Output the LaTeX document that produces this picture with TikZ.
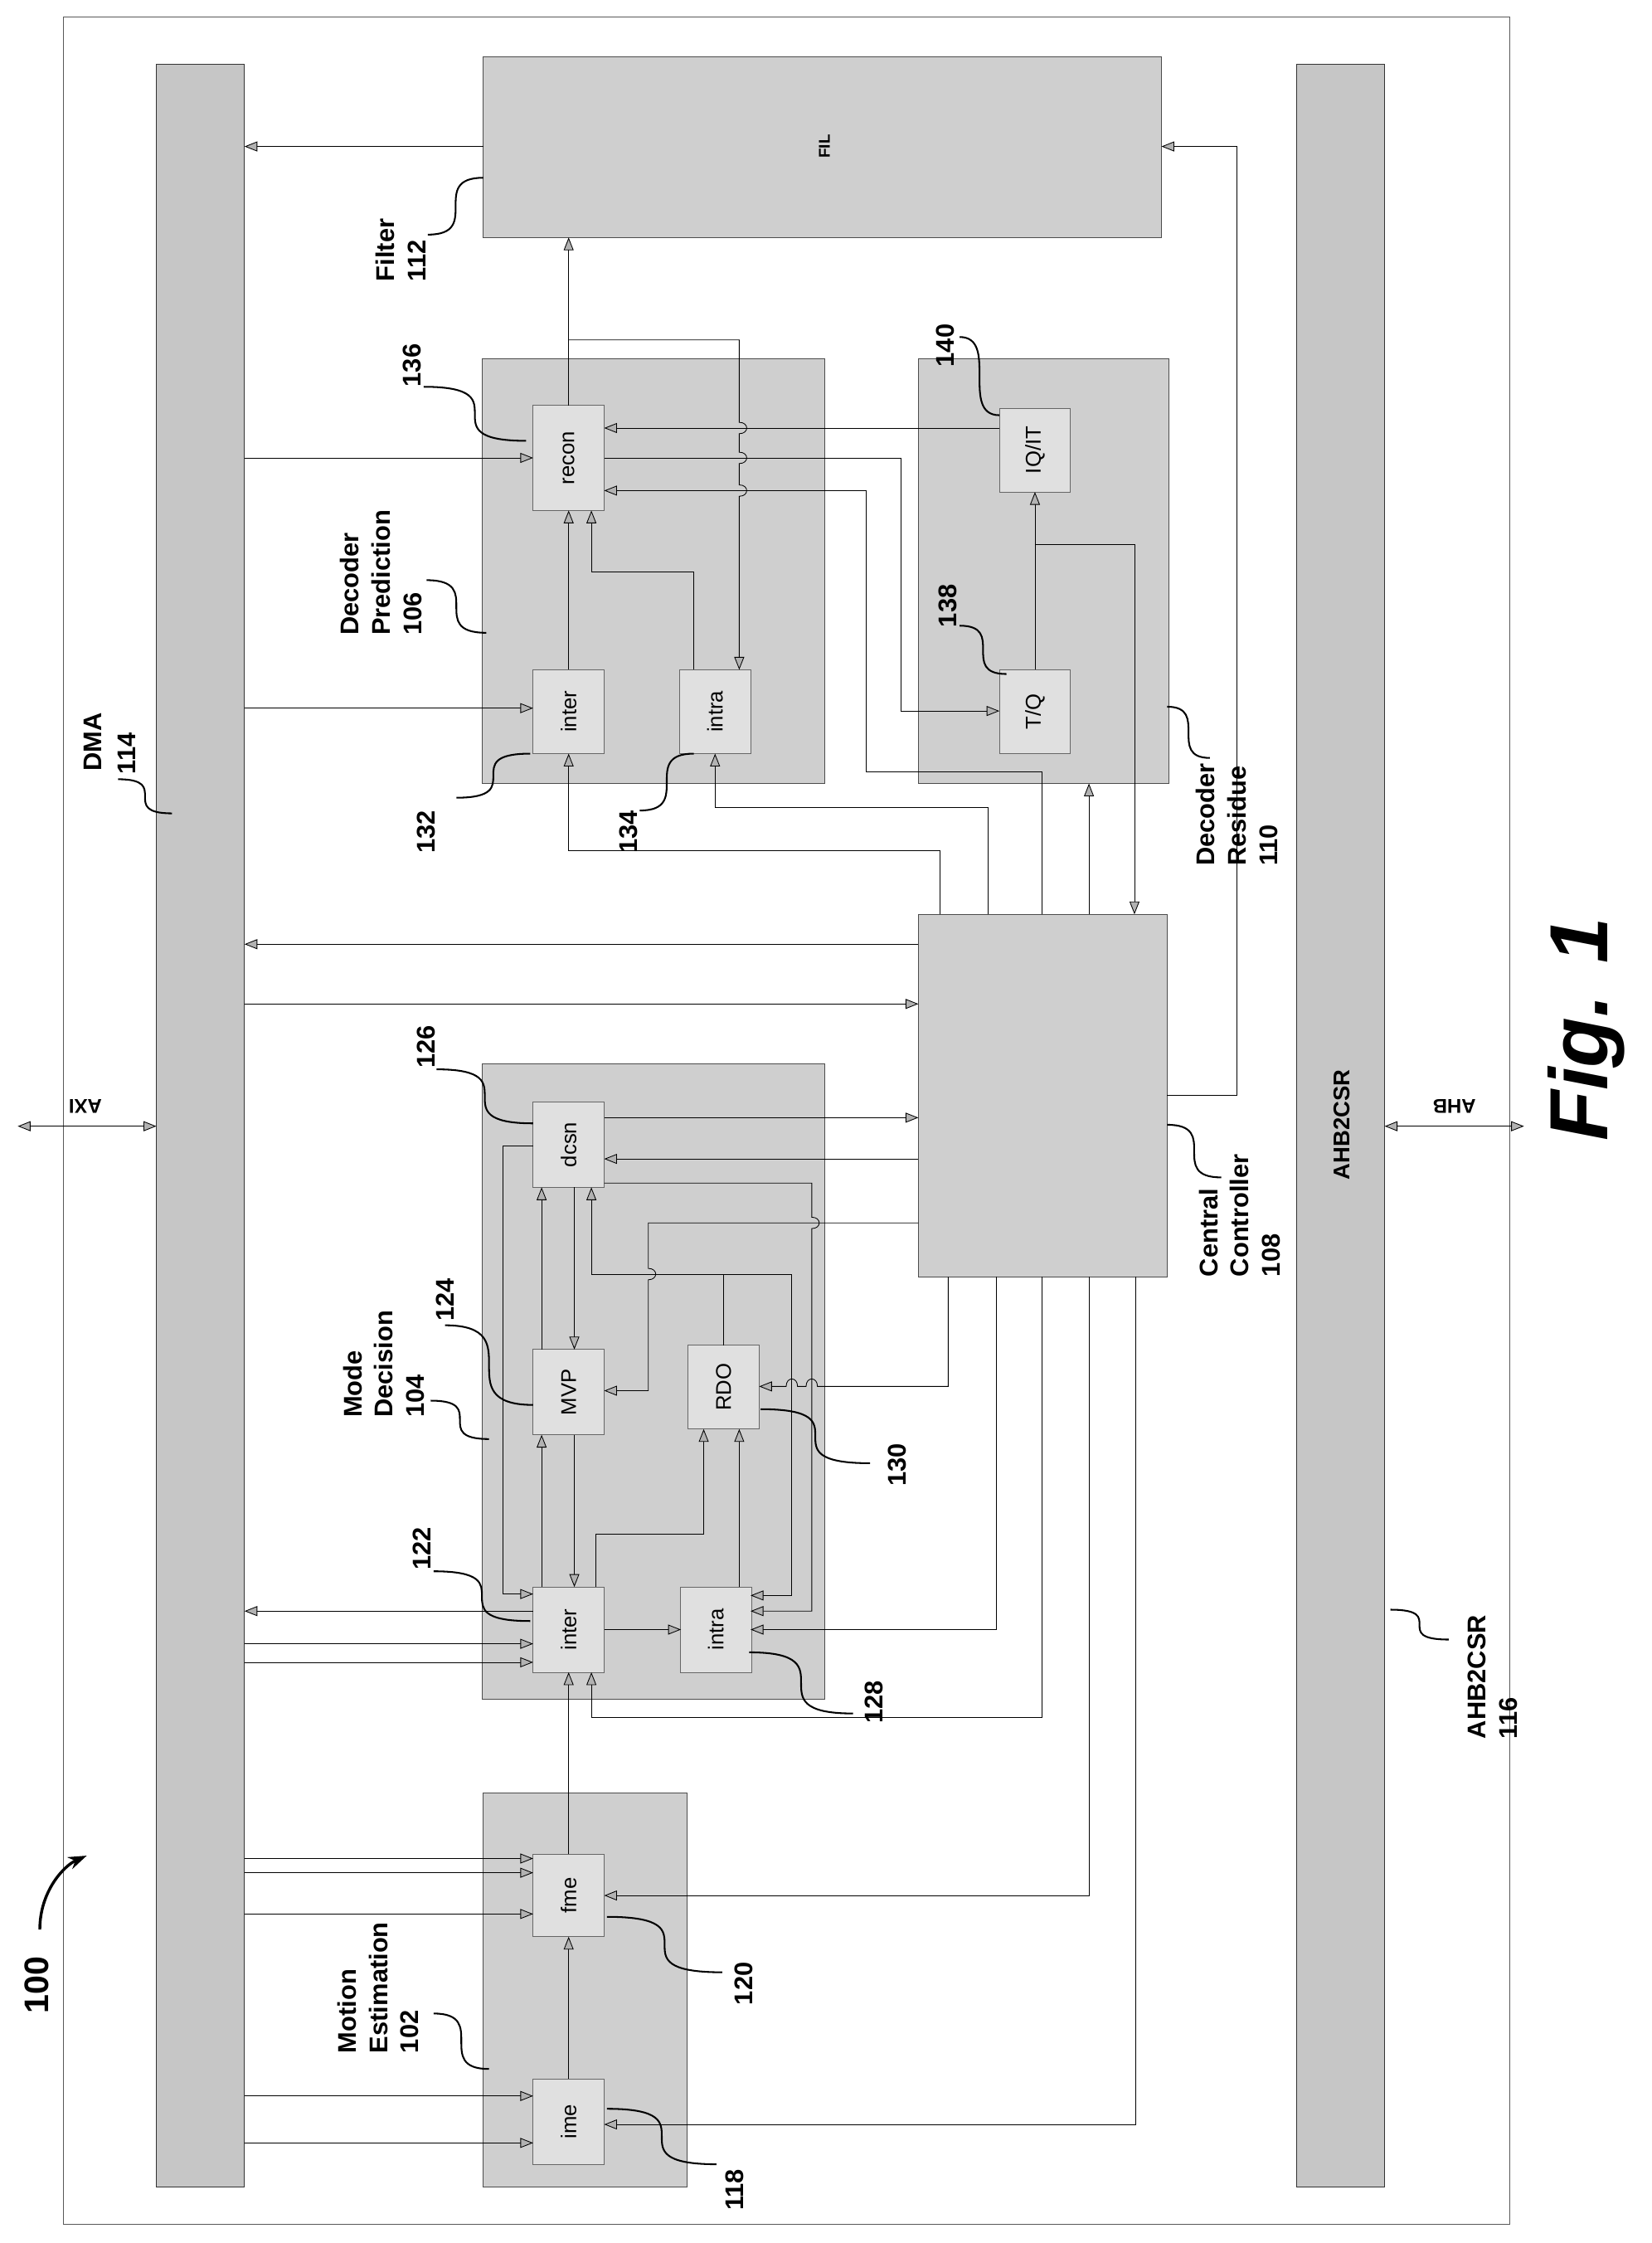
\documentclass[tikz,border=0pt]{standalone}
\usepackage{fontspec}
\setmainfont{Liberation Sans}
\usetikzlibrary{arrows.meta}
\newcommand{\leaderS}[4]{\draw[lead] (#1,#2) .. controls (#3,#2) and (#1,#4) .. (#3,#4);}
\begin{document}
\begin{tikzpicture}[x=1pt,y=-1pt,
  blk/.style={draw=black!70,fill=gray!38,line width=0.5pt,inner sep=0pt},
  bar/.style={draw=black!80,fill=gray!45,line width=0.6pt,inner sep=0pt},
  sub/.style={draw=black!60,fill=gray!24,line width=0.5pt,inner sep=0pt,minimum height=50pt,rotate=90,font=\fontsize{15}{17}\selectfont},
  conn/.style={draw,line width=0.5pt,-{Triangle[length=9pt,width=7pt,fill=gray!60]}},
  plain/.style={draw,line width=0.5pt},
  lead/.style={draw,line width=1.2pt},
  lbl/.style={rotate=90,font=\fontsize{18}{22}\selectfont\bfseries,align=left,inner sep=0pt},
  num/.style={rotate=90,font=\fontsize{18}{22}\selectfont\bfseries,inner sep=0pt}]
\useasboundingbox (0,0) rectangle (1162,1577.4);
\fill[white] (0,0) rectangle (1162,1577.4);
\draw[gray!70!black,line width=0.5pt] (44.5,11.7) rectangle (1062,1564);
% bars
\node[bar,minimum width=62pt,minimum height=1493pt] (dma) at (141,791.5) {};
\node[bar,minimum width=62pt,minimum height=1493pt] (ahb) at (943,791.5) {};
\node[rotate=90,font=\fontsize{16}{18}\selectfont\bfseries] (ahbt) at (944,791) {AHB2CSR};
% big blocks
\node[blk,minimum width=477pt,minimum height=127pt] (fil) at (578.5,103.5) {};
\node[rotate=90,font=\fontsize{11}{13}\selectfont\bfseries] (filt) at (580,103) {FIL};
\node[blk,minimum width=241pt,minimum height=299pt] (dp) at (459.5,401.5) {};
\node[blk,minimum width=176pt,minimum height=299pt] (dr) at (734,401.5) {};
\node[blk,minimum width=175pt,minimum height=255pt] (cc) at (733.5,770.5) {};
\node[blk,minimum width=241pt,minimum height=447pt] (md) at (459.5,971.5) {};
\node[blk,minimum width=143pt,minimum height=277pt] (me) at (411.5,1399.5) {};
% sub blocks
\node[sub,minimum width=74pt] (recon) at (400,322) {recon};
\node[sub,minimum width=59pt] (iqit) at (728,316.5) {IQ/IT};
\node[sub,minimum width=59pt] (tq) at (728,500.5) {T/Q};
\node[sub,minimum width=59pt] (inter1) at (400,500.5) {inter};
\node[sub,minimum width=59pt] (intra1) at (503,500.5) {intra};
\node[sub,minimum width=60pt] (dcsn) at (400,805) {dcsn};
\node[sub,minimum width=60pt] (mvp) at (400,979) {MVP};
\node[sub,minimum width=59pt] (rdo) at (509,975.5) {RDO};
\node[sub,minimum width=60pt] (inter2) at (400,1146) {inter};
\node[sub,minimum width=60pt] (intra2) at (503.5,1146) {intra};
\node[sub,minimum width=58pt] (fme) at (400,1333) {fme};
\node[sub,minimum width=60pt] (ime) at (400,1492) {ime};
% connectors: top area
\draw[conn] (340,103) -- (172,103);
\draw[conn] (400,285) -- (400,167);
\draw[conn] (400,239) -- (520,239) -- (520,297) .. controls (527,297) and (527,305) .. (520,305) -- (520,318) .. controls (527,318) and (527,326) .. (520,326) -- (520,341) .. controls (527,341) and (527,349) .. (520,349) -- (520,471);
\draw[conn] (703,301) -- (425,301);
\draw[conn] (172,322) -- (375,322);
\draw[conn] (425,322) -- (634,322) -- (634,500) -- (703,500);
\draw[conn] (733,643) -- (733,543) -- (609,543) -- (609,345) -- (425,345);
\draw[conn] (728,471) -- (728,346);
\draw[conn] (728,383) -- (798,383) -- (798,643);
\draw[conn] (766,643) -- (766,551);
\draw[conn] (172,498) -- (375,498);
\draw[conn] (661,643) -- (661,598) -- (400,598) -- (400,530);
\draw[conn] (695,643) -- (695,568) -- (503,568) -- (503,530);
\draw[conn] (400,471) -- (400,359);
\draw[conn] (488,471) -- (488,402) -- (416,402) -- (416,359);
\draw[conn] (646,664) -- (172,664);
\draw[conn] (172,706) -- (646,706);
\draw[conn] (821,770) -- (870,770) -- (870,103) -- (817,103);
% mode decision
\draw[conn] (425,786) -- (646,786);
\draw[conn] (646,815) -- (425,815);
\draw[conn] (646,860) -- (456,860) -- (456,892) .. controls (463,892) and (463,900) .. (456,900) -- (456,978) -- (425,978);
\draw[conn] (509,946) -- (509,896) -- (416,896) -- (416,835);
\draw[conn] (509,896) -- (557,896) -- (557,1122) -- (528,1122);
\draw[conn] (425,832) -- (571,832) -- (571,856) .. controls (578,856) and (578,864) .. (571,864) -- (571,1133) -- (528,1133);
\draw[conn] (667,898) -- (667,975) -- (575,975) .. controls (575,968) and (567,968) .. (567,975) -- (561,975) .. controls (561,968) and (553,968) .. (553,975) -- (534,975);
\draw[conn] (701,898) -- (701,1146) -- (528,1146);
\draw[conn] (404,835) -- (404,949);
\draw[conn] (381,949) -- (381,835);
\draw[conn] (381,1116) -- (381,1009);
\draw[conn] (404,1009) -- (404,1116);
\draw[conn] (375,806) -- (354,806) -- (354,1121) -- (375,1121);
\draw[conn] (375,1133) -- (172,1133);
\draw[conn] (172,1156) -- (375,1156);
\draw[conn] (172,1169) -- (375,1169);
\draw[conn] (425,1146) -- (479,1146);
\draw[conn] (419,1116) -- (419,1079) -- (495,1079) -- (495,1005);
\draw[conn] (520,1116) -- (520,1005);
% motion estimation
\draw[conn] (400,1304) -- (400,1176);
\draw[conn] (733,898) -- (733,1208) -- (416,1208) -- (416,1176);
\draw[conn] (766,898) -- (766,1333) -- (425,1333);
\draw[conn] (799,898) -- (799,1494) -- (425,1494);
\draw[conn] (400,1462) -- (400,1362);
\draw[conn] (172,1307) -- (375,1307);
\draw[conn] (172,1317) -- (375,1317);
\draw[conn] (172,1346) -- (375,1346);
\draw[conn] (172,1474) -- (375,1474);
\draw[conn] (172,1507) -- (375,1507);
% external buses
\draw[line width=0.5pt,{Triangle[length=9pt,width=7pt,fill=gray!60]}-{Triangle[length=9pt,width=7pt,fill=gray!60]}] (12.5,792) -- (110,792);
\node[rotate=180,font=\fontsize{14}{16}\selectfont\bfseries] (axi) at (60,778) {AXI};
\draw[line width=0.5pt,{Triangle[length=9pt,width=7pt,fill=gray!60]}-{Triangle[length=9pt,width=7pt,fill=gray!60]}] (974,792) -- (1072,792);
\node[rotate=180,font=\fontsize{14}{16}\selectfont\bfseries] (ahbl) at (1023,778) {AHB};
% labels
\node[lbl,anchor=west] (l102) at (266,1444) {Motion\\Estimation\\102};
\node[lbl,anchor=west] (l104) at (270,997) {Mode\\Decision\\104};
\node[lbl,anchor=west] (l106) at (268,447) {Decoder\\Prediction\\106};
\node[lbl,anchor=west] (l110) at (870,609) {Decoder\\Residue\\110};
\node[lbl,anchor=west] (l108) at (872,898) {Central\\Controller\\108};
\node[lbl,anchor=west] (l112) at (282,198) {Filter\\112};
\node[lbl,anchor=west] (l116) at (1050,1223) {AHB2CSR\\116};
\node[num] (l114a) at (65,522) {DMA};
\node[num] (l114b) at (89,530) {114};
\node[num] (n118) at (517,1540) {118};
\node[num] (n120) at (523,1395) {120};
\node[num] (n122) at (297,1089) {122};
\node[num] (n124) at (313,914) {124};
\node[num] (n126) at (300,736) {126};
\node[num] (n128) at (615,1197) {128};
\node[num] (n130) at (631,1030) {130};
\node[num] (n132) at (300,585) {132};
\node[num] (n134) at (442,585) {134};
\node[num] (n136) at (290,257) {136};
\node[num] (n138) at (667,426) {138};
\node[num] (n140) at (665,243) {140};
\node[rotate=90,font=\fontsize{24}{28}\selectfont\bfseries] (n100) at (26,1396) {100};
\node[rotate=90,font=\fontsize{58}{64}\selectfont\bfseries\itshape] (fig) at (1116,724) {Fig. 1};
\draw[line width=2pt,-{Stealth[length=13pt,width=9pt]}] (28,1357) .. controls (28,1330) and (45,1312) .. (61,1305);
% leaders
\leaderS{305}{1416}{344}{1455}
\leaderS{303}{985}{344}{1012}
\leaderS{300}{408}{342}{445}
\leaderS{821}{497}{851}{533}
\leaderS{821}{791}{859}{828}
\leaderS{301}{165}{340}{125}
\leaderS{83}{548}{121}{572}
\leaderS{978}{1132}{1019}{1153}
\leaderS{427}{1483}{504}{1522}
\leaderS{427}{1348}{508}{1387}
\leaderS{305}{1105}{373}{1140}
\leaderS{313}{932}{375}{988}
\leaderS{307}{752}{375}{790}
\leaderS{527}{1162}{600}{1205}
\leaderS{535}{991}{612}{1029}
\leaderS{321}{561}{373}{530}
\leaderS{450}{570}{488}{530}
\leaderS{298}{272}{370}{310}
\leaderS{675}{440}{708}{474}
\leaderS{675}{237}{703}{292}
\end{tikzpicture}
\end{document}
